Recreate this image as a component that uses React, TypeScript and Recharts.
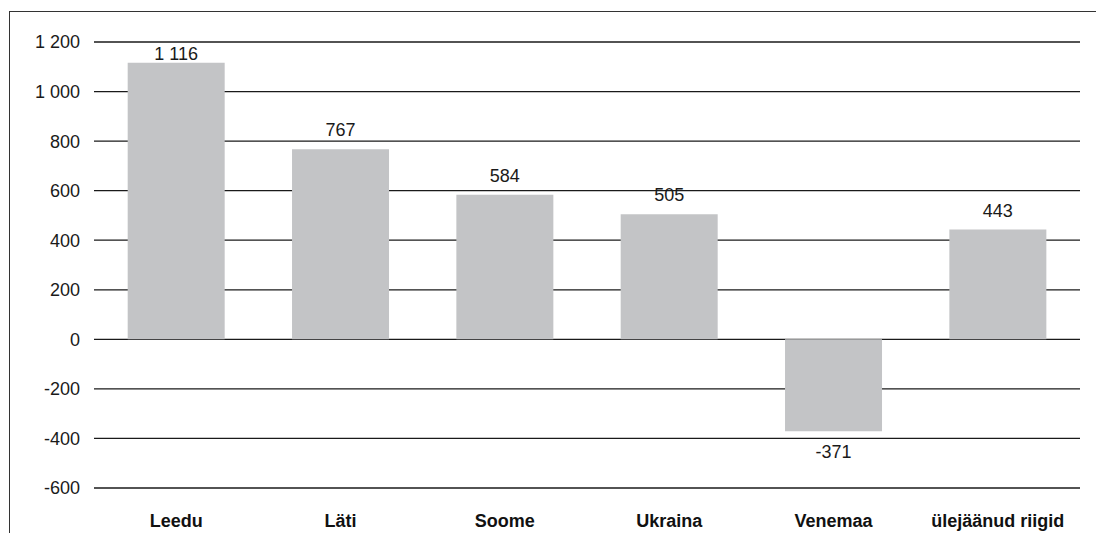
import React from "react";
import { BarChart, Bar, XAxis, YAxis, CartesianGrid, LabelList } from "recharts";

const countries = ["Leedu", "Läti", "Soome", "Ukraina", "Venemaa", "ülejäänud riigid"];
const values = [1116, 767, 584, 505, -371, 443];
const yTicks = [-600, -400, -200, 0, 200, 400, 600, 800, 1000, 1200];

const data = countries.map((name, i) => ({ name, value: values[i] }));

const FONT = "'Liberation Sans', Arial, Helvetica, sans-serif";
const PLOT_TOP = 42;

function fmt(v: number): string {
  return String(v).replace(/\B(?=(\d{3})+(?!\d))/g, " ");
}

function BarValue(props: any) {
  const { x, y, width, height, value } = props;
  const top = Math.min(y, y + height);
  const bottom = Math.max(y, y + height);
  const cx = x + width / 2;
  const ty = value >= 0 ? Math.max(top - 13, PLOT_TOP + 18) : bottom + 27;
  return (
    <text x={cx} y={ty} textAnchor="middle" fontSize={18} fontFamily={FONT} fill="#1a1a1a">
      {fmt(value)}
    </text>
  );
}

export default function App() {
  return (
    <div
      style={{
        position: "absolute",
        left: 0,
        top: 0,
        width: 1096,
        height: 533,
        overflow: "hidden",
        background: "#fff",
      }}
    >
      <div
        style={{
          position: "absolute",
          left: 9,
          top: 11,
          width: 1200,
          height: 600,
          borderLeft: "1px solid #333",
          borderTop: "1px solid #333",
        }}
      />
      <BarChart
        width={1096}
        height={533}
        data={data}
        margin={{ top: PLOT_TOP, right: 16, bottom: 15, left: 0 }}
        barCategoryGap="20.5%"
        style={{ position: "absolute", left: 0, top: 0 }}
      >
        <CartesianGrid vertical={false} stroke="#1a1a1a" strokeWidth={1.3} />
        <XAxis
          dataKey="name"
          axisLine={false}
          tickLine={false}
          height={30}
          tickMargin={20}
          interval={0}
          tick={{ fontSize: 18, fontFamily: FONT, fontWeight: "bold", fill: "#111" }}
        />
        <YAxis
          domain={[-600, 1200]}
          ticks={yTicks}
          width={94}
          axisLine={false}
          tickLine={false}
          tickMargin={8}
          tickFormatter={fmt}
          tick={{ fontSize: 18, fontFamily: FONT, fill: "#1a1a1a" }}
        />
        <Bar dataKey="value" fill="#c3c4c6" isAnimationActive={false}>
          <LabelList dataKey="value" content={BarValue} />
        </Bar>
      </BarChart>
    </div>
  );
}
